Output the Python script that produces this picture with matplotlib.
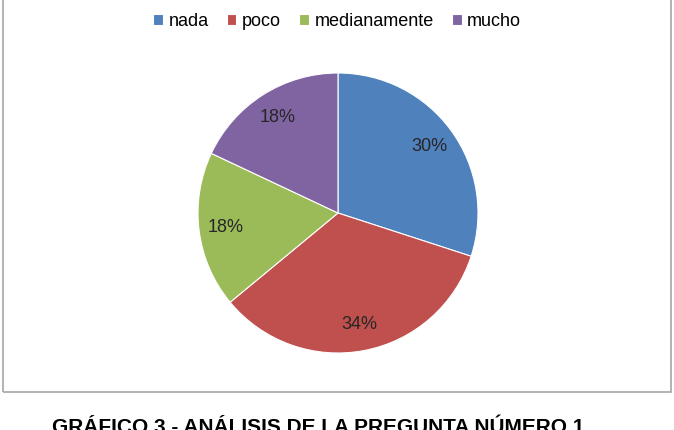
import matplotlib.pyplot as plt
from matplotlib.patches import Rectangle

plt.rcParams["font.family"] = ["Liberation Sans", "DejaVu Sans"]

categories = ["nada", "poco", "medianamente", "mucho"]
values = [30, 34, 18, 18]
colors = ["#4F81BD", "#C0504D", "#9BBB59", "#8064A2"]
title = "GRÁFICO 3 - ANÁLISIS DE LA PREGUNTA NÚMERO 1"

W, H = 674, 430
fig = plt.figure(figsize=(W / 100, H / 100), dpi=100)

# chart frame (top edge is outside the picture)
fig.patches.append(Rectangle((3 / W, 1 - 392 / H), 668 / W, 400 / H,
                             transform=fig.transFigure, fill=False,
                             edgecolor="#A6A6A6", linewidth=1.2))

# pie axes: centre (338, 213), radius 140 px
cx, cy, r = 338, 213, 140
ax = fig.add_axes([(cx - r) / W, 1 - (cy + r) / H, 2 * r / W, 2 * r / H])
wedges, texts, autotexts = ax.pie(
    values, colors=colors, startangle=90, counterclock=False,
    autopct="%d%%", pctdistance=0.81, radius=1,
    wedgeprops=dict(edgecolor="white", linewidth=0.8),
    textprops=dict(fontsize=13, color="#262626"))
ax.set_xlim(-1, 1)
ax.set_ylim(-1, 1)
ax.set_aspect("equal")

fig.legend(wedges, categories, loc="center", bbox_to_anchor=(337 / W, 1 - 21 / H),
           ncol=4, frameon=False, fontsize=13, handlelength=0.55,
           handleheight=0.55, handletextpad=0.3, columnspacing=1.0)

# title sits partly below the bottom edge, as in the reference
fig.text(52 / W, 1 - 433 / H, title, fontsize=15, fontweight="bold",
         ha="left", va="baseline", color="black")

fig.savefig("out.png", dpi=100)
